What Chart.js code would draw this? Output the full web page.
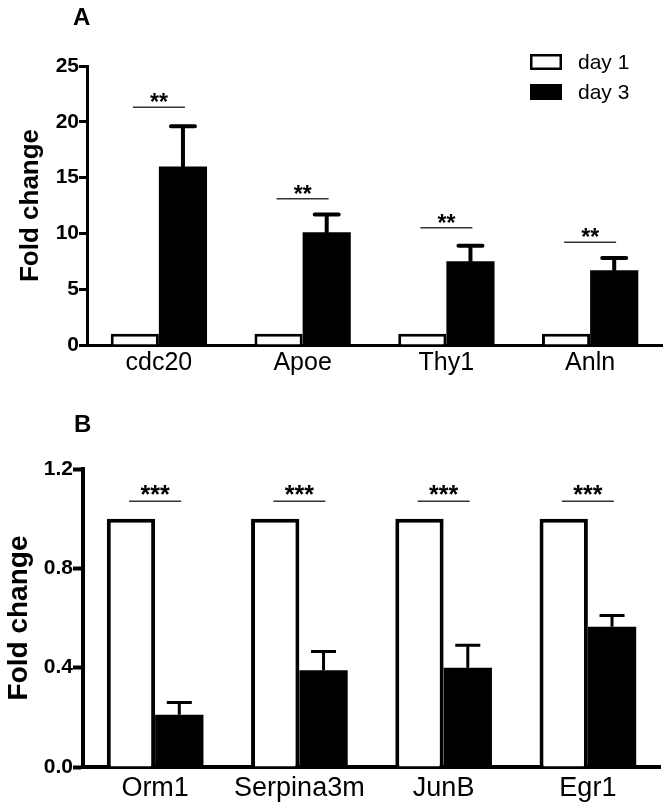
<!DOCTYPE html>
<html lang="en">
<head>
<meta charset="UTF-8">
<title>Fold change</title>
<script src="https://cdn.jsdelivr.net/npm/chart.js"></script>
<style>
  body { margin: 0; background: #fff; font-family: "Liberation Sans", Arial, sans-serif; }
  .painel { position: absolute; left: 0; width: 671px; }
  .letra { position: absolute; font-weight: bold; font-size: 24px; line-height: 1; color: #000; }
</style>
</head>
<body>
<div class="painel" style="top:0;height:390px"><canvas id="chartA" width="671" height="390"></canvas></div>
<div class="painel" style="top:390px;height:420px"><canvas id="chartB" width="671" height="420"></canvas></div>
<div class="letra" style="left:73px;top:5px">A</div>
<div class="letra" style="left:74px;top:412px">B</div>

<script>
// painel A
const genesA = ['cdc20', 'Apoe', 'Thy1', 'Anln'];
const day1A = [1, 1, 1, 1];
const day3A = [16.0, 10.1, 7.5, 6.7];
const errA = [3.6, 1.6, 1.4, 1.1];
const sigA = ['**', '**', '**', '**'];
const sigNivelA = [21.3, 13.1, 10.5, 9.2];
const ticksA = [0, 5, 10, 15, 20, 25];

// painel B
const genesB = ['Orm1', 'Serpina3m', 'JunB', 'Egr1'];
const day1B = [1, 1, 1, 1];
const day3B = [0.21, 0.39, 0.40, 0.565];
const errB = [0.05, 0.075, 0.09, 0.045];
const sigB = ['***', '***', '***', '***'];
const sigNivelB = [1.07, 1.07, 1.07, 1.07];
const ticksB = [0, 0.4, 0.8, 1.2];

const legendas = ['day 1', 'day 3'];

Chart.defaults.font.family = "'Liberation Sans', Arial, sans-serif";
Chart.defaults.color = '#000';

// barras de erro, asteriscos e legenda
const extrasPlugin = {
  id: 'extras',
  afterDatasetsDraw(chart, args, opts) {
    const ctx = chart.ctx;
    const ys = chart.scales.y;
    const xs = chart.scales.x;
    const meta = chart.getDatasetMeta(1);
    const valores = chart.data.datasets[1].data;
    ctx.save();
    ctx.strokeStyle = '#000';
    ctx.lineWidth = opts.errWidth;
    ctx.lineCap = opts.lineCap;
    meta.data.forEach((bar, i) => {
      const topo = ys.getPixelForValue(valores[i] + opts.err[i]);
      ctx.beginPath();
      ctx.moveTo(bar.x, bar.y);
      ctx.lineTo(bar.x, topo);
      ctx.moveTo(bar.x - opts.capW / 2, topo);
      ctx.lineTo(bar.x + opts.capW / 2, topo);
      ctx.stroke();
    });

    ctx.lineCap = 'butt';
    ctx.lineWidth = 1.5;
    ctx.strokeStyle = '#333';
    ctx.fillStyle = '#000';
    ctx.font = 'bold ' + opts.sigFont + 'px "Liberation Sans", Arial, sans-serif';
    ctx.textAlign = 'center';
    ctx.textBaseline = 'alphabetic';
    opts.sig.forEach((txt, i) => {
      const cx = xs.getPixelForValue(i);
      const ly = ys.getPixelForValue(opts.sigNivel[i]);
      ctx.beginPath();
      ctx.moveTo(cx - 26, ly);
      ctx.lineTo(cx + 26, ly);
      ctx.stroke();
      ctx.fillText(txt, cx, ly + opts.sigOffset);
    });

    if (opts.legenda) {
      ctx.textAlign = 'left';
      ctx.textBaseline = 'middle';
      ctx.font = '21px "Liberation Sans", Arial, sans-serif';
      chart.data.datasets.forEach((ds, i) => {
        const yy = 54 + i * 30;
        ctx.fillStyle = ds.backgroundColor;
        ctx.fillRect(530, yy, 32, 16);
        if (ds.backgroundColor === '#fff') {
          ctx.lineWidth = 2.5;
          ctx.strokeStyle = '#000';
          ctx.strokeRect(531.25, yy + 1.25, 29.5, 13.5);
        }
        ctx.fillStyle = '#000';
        ctx.fillText(ds.label, 578, yy + 9);
      });
    }
    ctx.restore();
  }
};

function montarGrafico(id, cfg) {
  return new Chart(document.getElementById(id), {
    type: 'bar',
    data: {
      labels: cfg.genes,
      datasets: [
        {
          label: legendas[0],
          data: cfg.day1,
          backgroundColor: '#fff',
          borderColor: '#000',
          borderWidth: cfg.borda,
          borderSkipped: 'start'
        },
        {
          label: legendas[1],
          data: cfg.day3,
          backgroundColor: '#000',
          borderWidth: 0
        }
      ]
    },
    options: {
      responsive: false,
      animation: false,
      categoryPercentage: 0.67,
      barPercentage: 1.0,
      layout: { padding: { top: cfg.topo, right: cfg.direita, left: 0, bottom: 0 } },
      plugins: {
        legend: { display: false },
        tooltip: { enabled: false },
        extras: {
          err: cfg.err,
          errWidth: cfg.errWidth,
          lineCap: cfg.lineCap,
          capW: cfg.capW,
          sig: cfg.sig,
          sigNivel: cfg.sigNivel,
          sigFont: cfg.sigFont,
          sigOffset: cfg.sigOffset,
          legenda: cfg.legenda
        }
      },
      scales: {
        x: {
          grid: { display: true, drawOnChartArea: false, drawTicks: false },
          border: { display: true, color: '#000', width: cfg.eixo },
          ticks: { padding: cfg.xPad, font: { size: cfg.xFont }, color: '#000' },
          afterFit(scale) { scale.height = cfg.alturaX; }
        },
        y: {
          min: 0,
          max: cfg.ticks[cfg.ticks.length - 1],
          afterBuildTicks(scale) { scale.ticks = cfg.ticks.map(v => ({ value: v })); },
          grid: { drawOnChartArea: false, drawTicks: true, tickLength: cfg.tickLen, tickWidth: cfg.eixo, tickColor: '#000' },
          border: { display: true, color: '#000', width: cfg.eixo },
          ticks: {
            padding: 0,
            font: { size: 21, weight: 'bold' },
            color: '#000',
            callback: cfg.formato
          },
          title: {
            display: true,
            text: 'Fold change',
            font: { size: cfg.tituloFont, weight: 'bold' },
            color: '#000',
            padding: { top: cfg.tituloPad, bottom: 0 }
          },
          afterFit(scale) { scale.width = cfg.larguraY; }
        }
      }
    },
    plugins: [extrasPlugin]
  });
}

montarGrafico('chartA', {
  genes: genesA, day1: day1A, day3: day3A, err: errA,
  sig: sigA, sigNivel: sigNivelA, sigFont: 23, sigOffset: 3,
  ticks: ticksA, formato: v => String(v),
  borda: 3, eixo: 3, tickLen: 8, errWidth: 4, lineCap: 'round', capW: 24,
  topo: 66, direita: 9, larguraY: 87, alturaX: 45,
  xPad: 3, xFont: 25, tituloFont: 26, tituloPad: 15, legenda: true
});

montarGrafico('chartB', {
  genes: genesB, day1: day1B, day3: day3B, err: errB,
  sig: sigB, sigNivel: sigNivelB, sigFont: 25, sigOffset: 2,
  ticks: ticksB, formato: v => v.toFixed(1),
  borda: 4, eixo: 4, tickLen: 10, errWidth: 3, lineCap: 'butt', capW: 25,
  topo: 79, direita: 11, larguraY: 83, alturaX: 43,
  xPad: 5, xFont: 27, tituloFont: 28, tituloPad: 2, legenda: false
});
</script>
</body>
</html>
